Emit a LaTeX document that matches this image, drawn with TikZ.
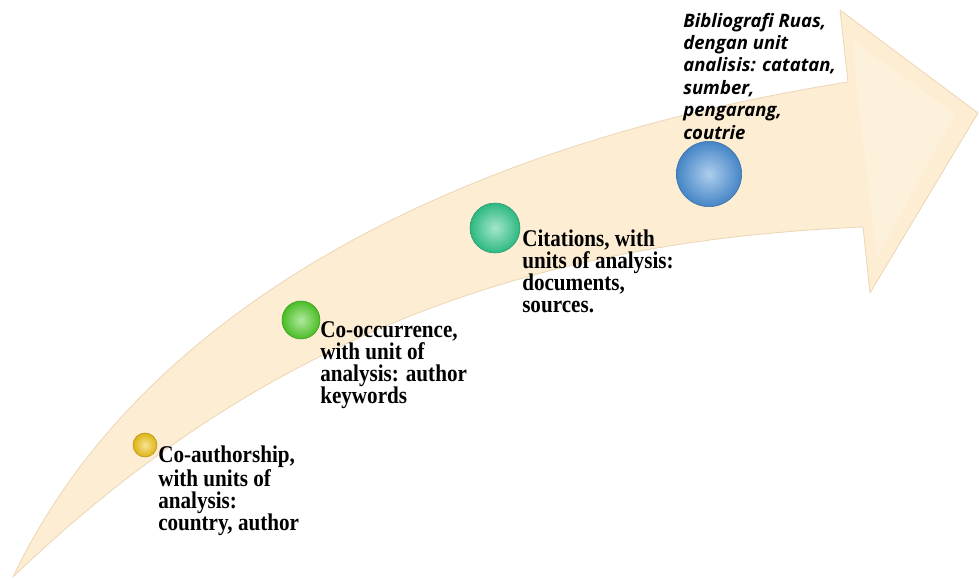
\documentclass[tikz,border=0pt]{standalone}
\usepackage{fontspec}
\newfontfamily\serifb[FakeStretch=0.88]{Liberation Serif}
\newfontfamily\osans{Open Sans}
\definecolor{arrowfill}{RGB}{252,237,211}
\definecolor{arrowedge}{RGB}{236,214,182}
\definecolor{headfill}{RGB}{253,241,220}
\definecolor{cyellow}{RGB}{240,195,20}
\definecolor{cgreen}{RGB}{80,205,40}
\definecolor{cteal}{RGB}{50,200,140}
\definecolor{cblue}{RGB}{75,145,215}
\tikzset{
  bead/.style={circle, inner sep=0pt, draw=#1!75!black, line width=0.4pt,
    inner color=#1!45!white, outer color=#1!92!black},
  lbl/.style={anchor=base west, align=left, inner sep=0pt,
    font=\serifb\bfseries\fontsize{18pt}{16.4pt}\selectfont},
  lblit/.style={anchor=base west, align=left, inner sep=0pt,
    font=\osans\bfseries\itshape\fontsize{13.9pt}{16.8pt}\selectfont}
}
\begin{document}
\begin{tikzpicture}[x=0.75pt,y=-0.75pt]
\useasboundingbox (0,0) rectangle (979,579);
% arrow
\coordinate (tail) at (13,577);
\coordinate (nu) at (848,82);
\coordinate (ht) at (840,10);
\coordinate (tip) at (978,113);
\coordinate (hb) at (870,293);
\coordinate (nl) at (863,227);
\fill[arrowfill, draw=arrowedge, line width=0.6pt, line join=round]
  (tail) .. controls (130,330) and (420,150) .. (nu)
  -- (ht) -- (tip) -- (hb) -- (nl)
  .. controls (560,240) and (280,320) .. (tail) -- cycle;
\fill[headfill] (857,92) -- (853,40) -- (955,114) -- (877,258) -- (872,218) -- cycle;
% beads
\node[bead=cyellow, minimum size=18pt] (b1) at (145,445) {};
\node[bead=cgreen, minimum size=28.5pt] (b2) at (301,320) {};
\node[bead=cteal, minimum size=37.5pt] (b3) at (495,228) {};
\node[bead=cblue, minimum size=49pt] (b4) at (709,174) {};
% labels (anchor at baseline of last line)
\node[lbl] (t1) at (158,530) {Co-authorship,\\with units of\\analysis:\\country, author};
\node[lbl] (t2) at (320,403) {Co-occurrence,\\with unit of\\analysis: author\\keywords};
\node[lbl] (t3) at (522,312) {Citations, with\\units of analysis:\\documents,\\sources.};
\node[lblit] (t4) at (683,139) {Bibliografi Ruas,\\dengan unit\\analisis: catatan,\\sumber,\\pengarang,\\coutrie};
\end{tikzpicture}
\end{document}
